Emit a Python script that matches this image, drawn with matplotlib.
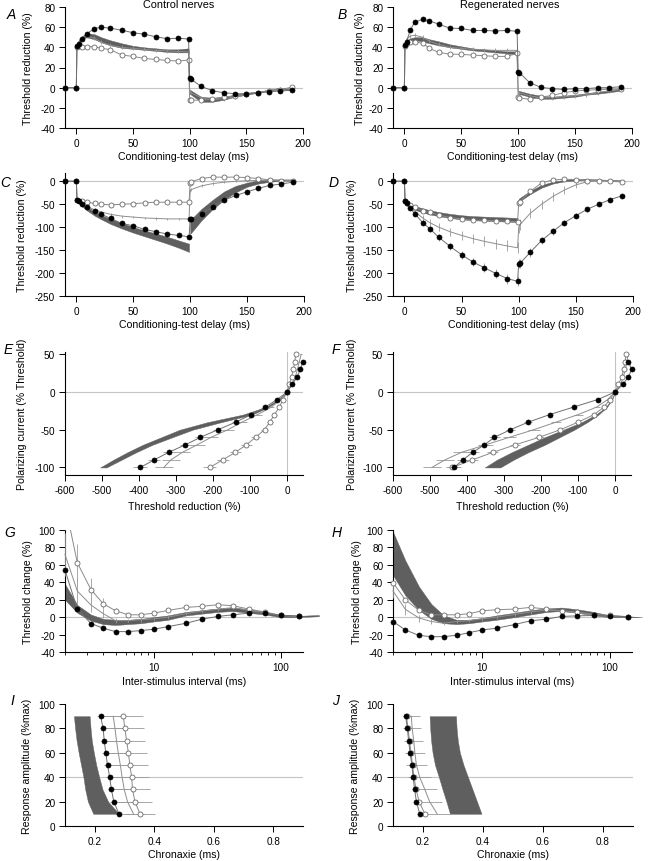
import numpy as np
import matplotlib
matplotlib.use("Agg")
import matplotlib.pyplot as plt
from matplotlib.transforms import Bbox, TransformedBbox

plt.rcParams['font.family'] = ['Liberation Sans', 'DejaVu Sans']
plt.rcParams['axes.unicode_minus'] = False
plt.rcParams['axes.linewidth'] = 0.8

nan = np.nan

# ---------------- data ----------------
# Threshold electrotonus (A-D)
TE_X = [-10, 0, 0.5, 2, 5, 9, 16, 22, 30, 40, 50, 60, 70, 80, 90, 99,
        100, 101, 110, 120, 130, 140, 150, 160, 170, 180, 190]
TE_BX1 = [0.5, 2, 5, 9, 16, 22, 30, 40, 50, 60, 70, 80, 90, 99]
TE_BX2 = [100, 110, 120, 130, 140, 150, 160, 170, 180, 190]

A_filled = [0, 0, 41.6, 43, 48, 53.5, 58.5, 60, 59, 57, 54.5, 53, 50.5, 48.6, 49, 48.3,
            9.6, 8.6, 1.3, -3, -5, -6, -6, -5.3, -4, -3.3, -2.6]
A_open = [0, 0, 40, 41, 40, 40.7, 40.7, 39, 37.7, 32.4, 31, 29, 28, 27, 26.4, 27.4,
          -12, -12.2, -12.5, -11.5, -9.5, -8, -6.5, -5, -3.5, -2, 0.5]
A_thin = [0, 0, 40, 45, 49, 51, 49, 45, 42, 40, 39, 38, 37, 36.5, 36, 35.5,
          -3, -5, -10, -12, -11, -9, -7, -5, -3, -1, -1.5]
A_thin_sd = [0, 0, 1, 2, 2, 2, 2, 2, 2, 2, 2, 2, 2, 2, 2, 2,
             1, 1, 2, 2, 2, 2, 2, 2, 2, 2, 2]
A_band1_lo = [40, 44, 48, 50, 48, 45, 42, 39.5, 38.5, 37.5, 36.5, 35.5, 35, 35]
A_band1_hi = [41, 47, 51, 54, 53, 50, 47, 44, 41.5, 40, 39, 38, 38, 39]
A_band2_lo = [-6, -14, -14, -12, -9, -7, -5, -3, -1.5, -3]
A_band2_hi = [-2, -9, -10, -9, -7, -5, -4, -2, 0, -1]

B_filled = [0, 0, 42, 45.7, 56.7, 65, 67.7, 66.3, 63, 59, 58.7, 56.7, 56.7, 56.3, 56.7, 56,
            15.7, 15, 5, 0.3, -1, -1.7, -1, -1, 0, 0, 1]
B_open = [0, 0, 41, 44, 45, 45.5, 44, 39, 35, 33.3, 33, 32.3, 31.7, 31, 31, 34,
          -9.5, -10, -11.7, -9.3, -7.7, -5, -3.3, -2.5, -2, -1.5, -1.5]
B_thin = [0, 0, 42, 48, 51, 52, 50, 46, 43, 40, 39, 38, 37.5, 37, 37, 37,
          -4, -5, -8, -10, -10, -9, -8, -7, -5, -3, -1]
B_thin_sd = [0, 0, 1, 2, 2, 2, 2, 2, 2, 2, 2, 2, 2, 2, 2, 2,
             1, 1, 2, 2, 2, 2, 2, 2, 2, 2, 2]
B_band1_lo = [40, 44, 46, 47, 46, 44, 42, 40, 38.5, 37, 36, 35, 34, 33]
B_band1_hi = [42, 47, 49, 50, 50, 48, 46, 43, 41, 39, 38, 37, 36, 36]
B_band2_lo = [-6, -9, -11, -11, -10, -9, -7, -6, -4.5, -3]
B_band2_hi = [-3, -6, -8, -9, -8, -7, -5.5, -4, -3, -1.5]

C_filled = [0, 0, -40, -43, -50, -57, -65, -72, -81, -92, -97, -105, -110, -115, -118, -121,
            -83, -82, -70.6, -56, -41, -31, -23, -15.4, -9, -6, -2]
C_open = [0, 0, -40, -42, -44, -46, -48, -50, -51.5, -50, -49, -47, -45.6, -45.6, -45.6, -45.6,
          -3, -1, 6, 9, 9, 9, 8, 6, 3, 1.5, 0]
C_thin = [0, 0, -40, -45, -50, -55, -62, -67, -72, -76, -78, -80, -81, -82, -82, -82,
          -20, -18, -10, -5, -2, 0, 1, 2, 2, 2, 2]
C_thin_sd = [0, 0, 1, 2, 2, 3, 3, 3, 3, 3, 3, 3, 3, 3, 3, 3,
             3, 3, 3, 3, 2, 2, 2, 2, 2, 2, 2]
C_band1_lo = [-41, -47, -55, -63, -75, -83, -93, -103, -112, -120, -128, -136, -145, -154]
C_band1_hi = [-38, -43, -50, -57, -67, -74, -82, -91, -100, -107, -114, -121, -129, -136]
C_band2_lo = [-115, -85, -60, -40, -24, -12, -5, -1, 1, 2]
C_band2_hi = [-85, -60, -40, -22, -10, -3, 2, 4, 4, 4]

D_filled = [0, 0, -42, -47, -58, -71, -90, -103, -122, -142, -160, -176, -188.5, -201, -212, -218,
            -180, -179, -155, -129, -109, -90, -75, -61, -50, -40, -32]
D_filled_sd = [0, 0, 2, 3, 4, 5, 6, 7, 8, 8, 9, 9, 10, 10, 11, 11,
               10, 10, 9, 8, 7, 6, 5, 5, 4, 4, 4]
D_open = [0, 0, -42, -48, -52, -57, -64, -68, -73.5, -79, -82, -85, -85, -86, -87, -88,
          -48, -45, -22, -3.7, 3, 4.4, 3.7, 1.5, 0.7, 0, -1.5]
D_thin = [0, 0, -42, -48, -56, -66, -80, -90, -100, -110, -118, -125, -131, -136, -141, -145,
          -100, -95, -70, -50, -33, -19, -8, -1, 1, 1, 0]
D_thin_sd = [0, 0, 2, 3, 4, 5, 6, 7, 8, 9, 10, 10, 11, 11, 12, 12,
             12, 12, 11, 10, 9, 8, 6, 4, 3, 2, 2]
D_band1_lo = [-43, -49, -56, -62, -68, -72, -76, -80, -83, -85, -86, -87, -88, -89]
D_band1_hi = [-40, -45, -50, -54, -59, -63, -67, -71, -74, -76, -77, -78, -79, -80]
D_band2_lo = [-45, -28, -14, -5, 0, 2, 3, 3, 2, 1]
D_band2_hi = [-38, -21, -8, -1, 3, 5, 5, 4, 3, 2]

# Current-threshold relationship (E-F)
IV_Y = [50, 40, 30, 20, 10, 0, -10, -20, -30, -40, -50, -60, -70, -80, -90, -100]
IV_BY = [-100, -90, -80, -70, -60, -50, -40, -30, -20, -10, 0]

E_filled = [nan, 43, 36, 27, 14, 0, -27, -59, -97, -139, -187, -234, -275, -320, -359, -397]
E_filled_sd = [0, 2, 2, 2, 1, 0, 4, 6, 8, 10, 12, 14, 15, 16, 17, 18]
E_open = [23, 21, 17, 12, 6, 0, -11, -21, -34, -47, -61, -85, -110, -140, -174, -209]
E_open_sd = [2, 2, 2, 2, 1, 0, 3, 5, 6, 8, 10, 12, 14, 15, 16, 18]
E_thin = [38, 33, 28, 22, 13, 0, -18, -42, -80, -122, -160, -205, -243, -283, -314, -333]
E_thin_sd = [3, 3, 3, 3, 2, 0, 5, 8, 12, 14, 16, 18, 20, 22, 24, 25]
E_band_lo = [-505, -470, -432, -390, -340, -290, -215, -120, -58, -25, 0]
E_band_hi = [-488, -448, -408, -364, -310, -255, -178, -95, -50, -20, 0]

F_filled = [nan, 36, 45, 36, 21, 0, -47, -112, -177, -235, -283, -326, -353, -385, -411, -435]
F_filled_sd = [0, 2, 2, 2, 1, 0, 4, 6, 8, 10, 12, 14, 15, 16, 17, 18]
F_open = [30, 27, 23, 18, 9, 0, -14, -30, -57, -100, -148, -205, -270, -330, -386, -440]
F_open_sd = [2, 2, 2, 2, 1, 0, 3, 5, 6, 8, 10, 12, 14, 15, 16, 18]
F_thin = [35, 32, 28, 22, 15, 0, -20, -50, -100, -160, -220, -285, -350, -415, -460, -495]
F_thin_sd = [3, 3, 3, 3, 2, 0, 5, 8, 12, 14, 16, 18, 20, 22, 24, 25]
F_band_lo = [-352, -320, -280, -235, -190, -140, -90, -52, -25, -10, 0]
F_band_hi = [-310, -275, -235, -190, -150, -110, -75, -45, -22, -8, 0]

# Recovery cycle (G-H)
RC_X = [2, 2.5, 3.2, 4, 5, 6.3, 7.9, 10, 13, 18, 24, 32, 42, 56, 75, 100, 140]
G_BX = [2, 2.5, 3.2, 4, 5, 6.3, 7.9, 10, 13, 18, 24, 32, 42, 56, 75, 100, 140, 200]
H_BX = [2, 2.5, 3.2, 4, 5, 6.3, 7.9, 10, 13, 18, 24, 32, 42, 56, 75, 100, 140, 180]

G_filled = [54, 9.3, -7.3, -12.7, -16.6, -16.6, -15.4, -13.9, -10.8, -7, -2.3, 0.8, 2.7, 4.6, 4.6, 2.3, 1.2]
G_open = [130, 62.5, 31.7, 15.4, 7.3, 2.7, 2.7, 4.6, 7.7, 11.2, 12.4, 14.3, 13.1, 9.3, 6, 2, 1]
G_open_sd = [30, 22, 13, 6, 3, 2, 2, 2, 2, 2, 2, 2, 2, 2, 1, 1, 1]
G_thin = [72, 30, 14, 4, -4, -4, -3, -2, 0, 4, 7, 9, 11, 8, 5, 2, 1]
G_thin_sd = [25, 15, 8, 5, 3, 2, 2, 2, 2, 2, 2, 2, 2, 2, 1, 1, 1]
G_band_lo = [20, 5, -4, -8, -9, -8, -7, -5, -3, 2, 4, 6, 7, 5, 3, 0, 0, 1]
G_band_hi = [38, 14, 3, -2, -3, -3, -2, 0, 2, 6, 8, 10, 11, 9, 6, 2, 1.5, 2.5]

H_filled = [-5, -14.7, -21, -22.4, -22.4, -20.8, -17.8, -14.7, -12.7, -8.5, -4.2, -2.3, 0.8, 1.5, 1.9, 1.5, 0.4]
H_open = [39.4, 20, 7.7, 2.7, 2.7, 2.7, 3.9, 7.3, 8.5, 9.3, 11.2, 9.3, 7.3, 5.8, 3, 2, 0.5]
H_thin = [30, 9, -1, -5, -7, -5, -4, -2, 0, 3, 6, 8, 7, 5, 2, 1, 0]
H_thin_sd = [8, 6, 4, 3, 2, 2, 2, 2, 2, 2, 2, 2, 2, 2, 1, 1, 1]
H_band_lo = [48, 25, 8, -2, -7, -8, -7, -5, -3, 0, 3, 6, 7, 5, 2, 0, 0, 0]
H_band_hi = [98, 65, 35, 15, 2, -3, -3, -1, 2, 5, 8, 10, 11, 9, 6, 2, 1, 0]

# Chronaxie vs response amplitude (I-J)
AMP_Y = [90, 80, 70, 60, 50, 40, 30, 20, 10]

I_filled = [0.220, 0.228, 0.232, 0.237, 0.243, 0.250, 0.256, 0.264, 0.281]
I_filled_sd = [0.012, 0.012, 0.012, 0.012, 0.012, 0.012, 0.012, 0.012, 0.012]
I_open = [0.296, 0.301, 0.307, 0.313, 0.318, 0.324, 0.327, 0.335, 0.352]
I_open_sd = [0.065, 0.065, 0.063, 0.062, 0.060, 0.058, 0.058, 0.056, 0.052]
I_thin = [0.262, 0.268, 0.273, 0.279, 0.286, 0.292, 0.299, 0.310, 0.330]
I_thin_sd = [0.04, 0.04, 0.04, 0.04, 0.04, 0.04, 0.04, 0.04, 0.04]
I_band_lo = [0.130, 0.134, 0.139, 0.146, 0.154, 0.162, 0.168, 0.177, 0.195]
I_band_hi = [0.183, 0.186, 0.190, 0.197, 0.205, 0.215, 0.226, 0.245, 0.281]

J_filled = [0.142, 0.148, 0.152, 0.157, 0.163, 0.167, 0.172, 0.178, 0.189]
J_filled_sd = [0.008, 0.008, 0.008, 0.008, 0.008, 0.008, 0.008, 0.008, 0.008]
J_open = [0.145, 0.150, 0.155, 0.160, 0.165, 0.170, 0.177, 0.187, 0.206]
J_thin = [0.161, 0.164, 0.169, 0.173, 0.178, 0.189, 0.206, 0.222, 0.247]
J_thin_sd = [0.028, 0.030, 0.032, 0.034, 0.036, 0.038, 0.040, 0.042, 0.045]
J_band_lo = [0.222, 0.224, 0.227, 0.232, 0.240, 0.253, 0.265, 0.278, 0.290]
J_band_hi = [0.310, 0.312, 0.316, 0.323, 0.335, 0.350, 0.365, 0.380, 0.395]

# ---------------- styling ----------------
W, H = 649, 862
fig = plt.figure(figsize=(W / 100, H / 100), dpi=100)

BAND = '#5f5f5f'
LINE_F = '#6e6e6e'
LINE_O = '#8a8a8a'
LINE_T = '#8e8e8e'
ECOL = '#9a9a9a'
ZERO = '#c4c4c4'
TICK_FS = 7.2
LAB_FS = 7.6


def make_ax(l, t, r, b):
    return fig.add_axes([l / W, 1 - b / H, (r - l) / W, (b - t) / H])


def finish(ax, xlim, ylim, xticks, yticks, xlabel, ylabel, ylab_dx, xlab_dy, log=False, xticklabels=None):
    if log:
        ax.set_xscale('log')
    ax.set_xlim(xlim)
    ax.set_ylim(ylim)
    for s in ('top', 'right'):
        ax.spines[s].set_visible(False)
    ax.set_xticks(xticks)
    if xticklabels is not None:
        ax.set_xticklabels(xticklabels)
    ax.set_yticks(yticks)
    ax.tick_params(which='major', direction='out', length=4, width=0.7, labelsize=TICK_FS, pad=3)
    ax.tick_params(which='minor', direction='out', length=2.5, width=0.6)
    if not log:
        ax.minorticks_off()
    bb = ax.get_position()
    wpx, hpx = bb.width * W, bb.height * H
    ax.set_xlabel(xlabel, fontsize=LAB_FS, va='center')
    ax.xaxis.set_label_coords(0.5, -xlab_dy / hpx)
    ax.set_ylabel(ylabel, fontsize=LAB_FS, va='center')
    ax.yaxis.set_label_coords(ylab_dx / wpx, 0.5)


def draw(ax, x, y, kind, err=None, horiz=False, clipbox=None):
    x = np.asarray(x, float)
    y = np.asarray(y, float)
    kw = dict(lw=0.7, elinewidth=0.6, capsize=0)
    if kind == 'filled':
        kw.update(color=LINE_F, marker='o', ms=3.6, mfc='black', mec='black', mew=0.5,
                  ecolor=ECOL, zorder=5)
    elif kind == 'open':
        kw.update(color=LINE_O, marker='o', ms=3.6, mfc='white', mec='#6a6a6a', mew=0.6,
                  ecolor=ECOL, zorder=4)
    else:
        kw.update(color=LINE_T, ecolor=ECOL, zorder=3)
    if err is None:
        c = ax.errorbar(x, y, **kw)
    elif horiz:
        c = ax.errorbar(x, y, xerr=np.asarray(err, float), **kw)
    else:
        c = ax.errorbar(x, y, yerr=np.asarray(err, float), **kw)
    for a in c.get_children():
        if clipbox is None:
            a.set_clip_on(False)
        else:
            a.set_clip_on(True)
            a.set_clip_box(clipbox)


def band(ax, x, lo, hi, vertical=False, clipbox=None):
    if vertical:
        p = ax.fill_betweenx(y=x, x1=lo, x2=hi, color=BAND, lw=0.3, zorder=2)
    else:
        p = ax.fill_between(x, lo, hi, color=BAND, lw=0.3, zorder=2)
    if clipbox is None:
        p.set_clip_on(False)
    else:
        p.set_clip_on(True)
        p.set_clip_box(clipbox)


def top_clip(ax):
    return TransformedBbox(Bbox([[-0.2, -0.5], [1.35, 1.0]]), ax.transAxes)


# ---------------- A/B/C/D ----------------
te_panels = [
    ((65, 8, 303, 129), (-40, 80), [-40, -20, 0, 20, 40, 60, 80], -37,
     A_filled, A_open, A_thin, A_thin_sd, None, A_band1_lo, A_band1_hi, A_band2_lo, A_band2_hi),
    ((393, 8, 632, 129), (-40, 80), [-40, -20, 0, 20, 40, 60, 80], -33,
     B_filled, B_open, B_thin, B_thin_sd, None, B_band1_lo, B_band1_hi, B_band2_lo, B_band2_hi),
    ((65, 174, 304, 297), (-250, 18), [-250, -200, -150, -100, -50, 0], -43,
     C_filled, C_open, C_thin, C_thin_sd, None, C_band1_lo, C_band1_hi, C_band2_lo, C_band2_hi),
    ((393, 174, 633, 297), (-250, 18), [-250, -200, -150, -100, -50, 0], -41,
     D_filled, D_open, D_thin, D_thin_sd, D_filled_sd, D_band1_lo, D_band1_hi, D_band2_lo, D_band2_hi),
]
for (rect, ylim, yt, ydx, fil, opn, thn, thsd, fsd, b1l, b1h, b2l, b2h) in te_panels:
    ax = make_ax(*rect)
    ax.axhline(0, color=ZERO, lw=0.8, zorder=1)
    band(ax, TE_BX1, b1l, b1h)
    band(ax, TE_BX2, b2l, b2h)
    draw(ax, TE_X, thn, 'thin', thsd)
    draw(ax, TE_X, opn, 'open')
    draw(ax, TE_X, fil, 'filled', fsd)
    finish(ax, (-10, 200), ylim, [0, 50, 100, 150, 200], yt,
           'Conditioning-test delay (ms)', 'Threshold reduction (%)', ydx, 28)

# ---------------- E/F ----------------
iv_panels = [
    ((65, 353, 303, 476), (-600, 43), -43,
     E_filled, E_filled_sd, E_open, E_open_sd, E_thin, E_thin_sd, E_band_lo, E_band_hi),
    ((393, 353, 631, 476), (-600, 43), -41,
     F_filled, F_filled_sd, F_open, F_open_sd, F_thin, F_thin_sd, F_band_lo, F_band_hi),
]
for (rect, xlim, ydx, fil, fsd, opn, osd, thn, thsd, bl, bh) in iv_panels:
    ax = make_ax(*rect)
    ax.axhline(0, color=ZERO, lw=0.8, zorder=1)
    ax.axvline(0, color=ZERO, lw=0.8, zorder=1)
    band(ax, IV_BY, bl, bh, vertical=True)
    draw(ax, thn, IV_Y, 'thin', thsd, horiz=True)
    draw(ax, opn, IV_Y, 'open', osd, horiz=True)
    draw(ax, fil, IV_Y, 'filled', fsd, horiz=True)
    finish(ax, xlim, (-110, 53), [-600, -500, -400, -300, -200, -100, 0], [-100, -50, 0, 50],
           'Threshold reduction (%)', 'Polarizing current (% Threshold)', ydx, 31)

# ---------------- G/H ----------------
rc_panels = [
    ((65, 531, 303, 653), -37, G_BX, G_filled, G_open, G_open_sd, G_thin, G_thin_sd, G_band_lo, G_band_hi),
    ((393, 531, 632, 653), -36, H_BX, H_filled, H_open, None, H_thin, H_thin_sd, H_band_lo, H_band_hi),
]
for (rect, ydx, bx, fil, opn, osd, thn, thsd, bl, bh) in rc_panels:
    ax = make_ax(*rect)
    ax.set_xscale('log')
    ax.set_xlim(2, 150)
    ax.set_ylim(-40, 100)
    ax.axhline(0, color=ZERO, lw=0.8, zorder=1)
    cb = top_clip(ax)
    band(ax, bx, bl, bh, clipbox=cb)
    draw(ax, RC_X, thn, 'thin', thsd, clipbox=cb)
    draw(ax, RC_X, opn, 'open', osd, clipbox=cb)
    draw(ax, RC_X, fil, 'filled', clipbox=cb)
    finish(ax, (2, 150), (-40, 100), [10, 100], [-40, -20, 0, 20, 40, 60, 80, 100],
           'Inter-stimulus interval (ms)', 'Threshold change (%)', ydx, 29, log=True,
           xticklabels=['10', '100'])

# ---------------- I/J ----------------
sd_panels = [
    ((65, 705, 303, 827), -38, I_filled, I_filled_sd, I_open, I_open_sd, I_thin, I_thin_sd, I_band_lo, I_band_hi),
    ((393, 705, 633, 827), -38, J_filled, J_filled_sd, J_open, None, J_thin, J_thin_sd, J_band_lo, J_band_hi),
]
for (rect, ydx, fil, fsd, opn, osd, thn, thsd, bl, bh) in sd_panels:
    ax = make_ax(*rect)
    ax.axhline(40, color=ZERO, lw=0.8, zorder=1)
    band(ax, AMP_Y, bl, bh, vertical=True)
    draw(ax, thn, AMP_Y, 'thin', thsd, horiz=True)
    draw(ax, opn, AMP_Y, 'open', osd, horiz=True)
    draw(ax, fil, AMP_Y, 'filled', fsd, horiz=True)
    finish(ax, (0.1, 0.9), (0, 100), [0.2, 0.4, 0.6, 0.8], [0, 20, 40, 60, 80, 100],
           'Chronaxie (ms)', 'Response amplitude (%max)', ydx, 28,
           xticklabels=['0.2', '0.4', '0.6', '0.8'])

# ---------------- titles & panel letters ----------------
fig.text(179 / W, 1 - 5 / H, 'Control nerves', ha='center', va='center', fontsize=7.8)
fig.text(510 / W, 1 - 5 / H, 'Regenerated nerves', ha='center', va='center', fontsize=7.8)
letters = [('A', 11, 15), ('B', 342, 15), ('C', 5, 183), ('D', 334, 183),
           ('E', 8, 350), ('F', 336, 350), ('G', 10, 533), ('H', 337, 533),
           ('I', 12, 701), ('J', 336, 701)]
for s, px, py in letters:
    fig.text(px / W, 1 - py / H, s, ha='center', va='center', fontsize=10, style='italic')

fig.savefig('out.png', dpi=100)
